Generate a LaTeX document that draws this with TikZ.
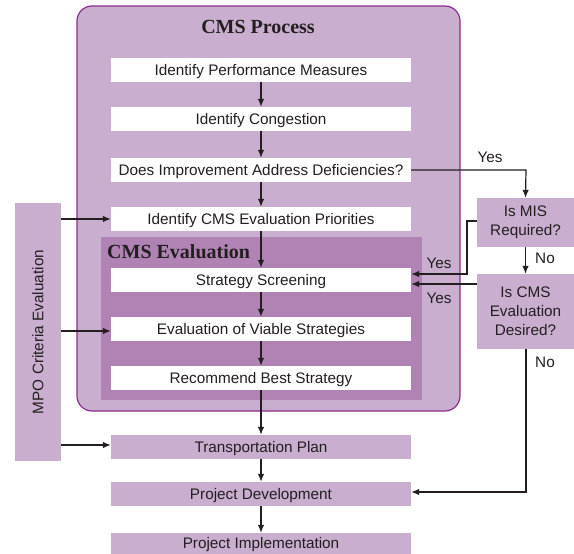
\documentclass[tikz,border=0pt]{standalone}
\usepackage{fontspec}
\setmainfont{Liberation Sans}
\newfontfamily\titlefont{Liberation Serif}
\usetikzlibrary{arrows.meta}
\definecolor{lightp}{HTML}{C9AECF}
\definecolor{darkp}{HTML}{B083B4}
\definecolor{borderp}{HTML}{8D2C8F}
\definecolor{ink}{HTML}{231F20}
\begin{document}
\begin{tikzpicture}[x=1pt,y=-1pt,
  every node/.style={font=\fontsize{15.3}{17}\selectfont, text=ink},
  wbox/.style={draw=none, fill=white, minimum width=300pt, minimum height=24pt, inner sep=0pt, text height=10.5pt, text depth=0pt},
  pbox/.style={wbox, fill=lightp},
  sbox/.style={draw=none, fill=lightp, inner sep=0pt, align=center, font=\fontsize{15.3}{19}\selectfont},
  conn/.style={draw=ink, line width=1.2pt, -{Latex[length=8pt,width=6.5pt]}},
  lbl/.style={inner sep=0pt},
  ttl/.style={font=\titlefont\bfseries\fontsize{20}{22}\selectfont, inner sep=0pt}]
\useasboundingbox (0,0) rectangle (574,554);
% containers
\draw[fill=lightp, draw=borderp, line width=1.2pt, rounded corners=15pt] (77,6) rectangle (460,411);
\node[ttl] (proctitle) at (258,27) {CMS Process};
\fill[darkp] (101,237) rectangle (422,400);
\node[ttl, anchor=west] (evaltitle) at (107,252) {CMS Evaluation};
% main boxes
\node[wbox] (ipm) at (261,70) {Identify Performance Measures};
\node[wbox] (ic) at (261,119) {Identify Congestion};
\node[wbox] (diad) at (261,170) {Does Improvement Address Deficiencies?};
\node[wbox] (icep) at (261,219) {Identify CMS Evaluation Priorities};
\node[wbox] (ss) at (261,280) {Strategy Screening};
\node[wbox] (evs) at (261,329) {Evaluation of Viable Strategies};
\node[wbox] (rbs) at (261,378) {Recommend Best Strategy};
\node[pbox] (tp) at (261,447) {Transportation Plan};
\node[pbox] (pd) at (261,494) {Project Development};
\node[pbox, minimum height=21pt] (pi) at (261,543.5) {Project Implementation};
% side boxes
\node[sbox, minimum width=97pt, minimum height=49pt] (mis) at (525.5,222.5) {Is MIS\\Required?};
\node[sbox, minimum width=97pt, minimum height=75pt] (cmsd) at (525.5,311.5) {Is CMS\\Evaluation\\Desired?};
\node[sbox, minimum width=258pt, minimum height=46pt, rotate=90] (mpo) at (38,332) {MPO Criteria Evaluation};
% vertical chain
\draw[conn] (ipm) -- (ic);
\draw[conn] (ic) -- (diad);
\draw[conn] (diad) -- (icep);
\draw[conn] (icep) -- (ss);
\draw[conn] (ss) -- (evs);
\draw[conn] (evs) -- (rbs);
\draw[conn] (rbs) -- (tp);
\draw[conn] (tp) -- (pd);
\draw[conn] (pd) -- (pi);
% decision branches
\coordinate (c1) at (526,170);
\draw[conn] (diad.east) -- (c1) -- (mis.north);
\node[lbl] (yes1) at (490,157) {Yes};
\coordinate (c2) at (467,221);
\coordinate (c3) at (467,274);
\draw[conn] (mis.west |- c2) -- (c2) -- (c3) -- (ss.east |- c3);
\node[lbl] (yes2) at (439,263) {Yes};
\coordinate (c4) at (477,284);
\draw[conn] (c4) -- (ss.east |- c4);
\node[lbl] (yes3) at (439,298) {Yes};
\draw[conn] (mis.south) -- (cmsd.north);
\node[lbl] (no1) at (545,258) {No};
\coordinate (c5) at (526,492);
\draw[conn] (cmsd.south -| c5) -- (c5) -- (pd.east |- c5);
\node[lbl] (no2) at (545,362) {No};
% MPO inputs
\coordinate (m1) at (61,219);
\coordinate (m2) at (61,331);
\coordinate (m3) at (61,445);
\draw[conn] (m1) -- (icep.west |- m1);
\draw[conn] (m2) -- (evs.west |- m2);
\draw[conn] (m3) -- (tp.west |- m3);
\end{tikzpicture}
\end{document}
